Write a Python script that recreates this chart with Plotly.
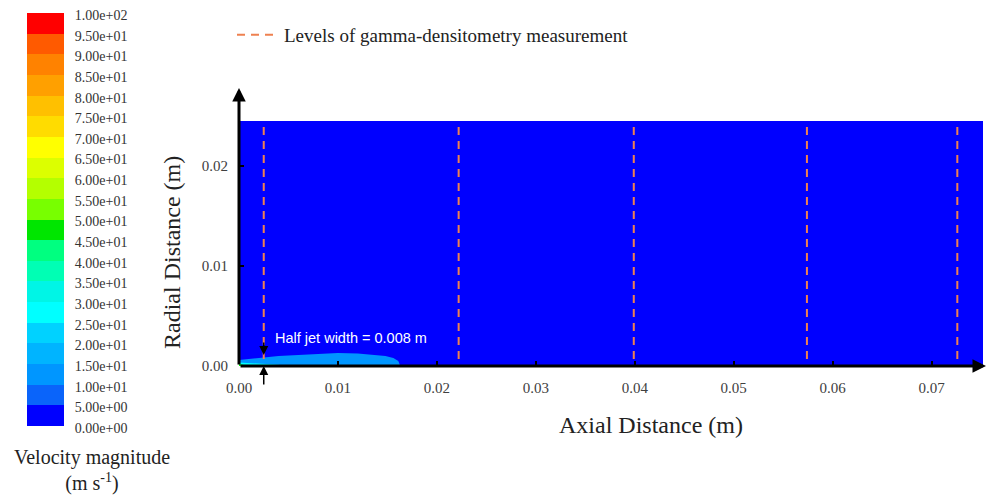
import plotly.graph_objects as go

# ---------------- data ----------------
band_edges = [0, 5, 10, 15, 20, 25, 30, 35, 40, 45, 50, 55, 60, 65, 70, 75, 80, 85, 90, 95, 100]
band_tick_text = ["0.00e+00", "5.00e+00", "1.00e+01", "1.50e+01", "2.00e+01", "2.50e+01",
                  "3.00e+01", "3.50e+01", "4.00e+01", "4.50e+01", "5.00e+01", "5.50e+01",
                  "6.00e+01", "6.50e+01", "7.00e+01", "7.50e+01", "8.00e+01", "8.50e+01",
                  "9.00e+01", "9.50e+01", "1.00e+02"]
band_colors = ["#0000FF", "#0A64FA", "#0096FF", "#00B4FF", "#00D2FF", "#00FFFF",
               "#00F5E6", "#00FFB4", "#00FF80", "#00E600", "#78FF00", "#B4FF00",
               "#DCFF00", "#FFFF00", "#FFDC00", "#FFC000", "#FFA000", "#FF8200",
               "#FF5A00", "#FF0000"]

# domain extent (m) and background velocity (m/s)
domain_length = 0.0752
domain_radius = 0.0245
background_velocity = 0.0

# jet region: outer envelope (~10-15 m/s) and thin core near nozzle
jet_x = [0.0, 0.001, 0.002, 0.004, 0.006, 0.008, 0.010, 0.012, 0.0135, 0.0148, 0.0156, 0.0161, 0.0163]
jet_top = [0.0006, 0.0007, 0.0008, 0.001, 0.0011, 0.0012, 0.0013, 0.00125, 0.00115, 0.001, 0.0008, 0.0005, 0.0]
jet_velocity = 12.0
core_x = [0.0, 0.001, 0.002, 0.003, 0.004, 0.0045]
core_top = [0.00035, 0.0003, 0.00025, 0.0002, 0.00012, 0.0]
core_velocity = 27.0
tip_x = [0.0, 0.0005, 0.001]
tip_top = [0.0002, 0.00012, 0.0]
tip_velocity = 47.0

# gamma-densitometry measurement levels (m)
measurement_levels = [0.0025, 0.0222, 0.0399, 0.0574, 0.0726]
level_top = 0.0239

x_ticks = [0.0, 0.01, 0.02, 0.03, 0.04, 0.05, 0.06, 0.07]
x_tick_text = ["0.00", "0.01", "0.02", "0.03", "0.04", "0.05", "0.06", "0.07"]
y_ticks = [0.0, 0.01, 0.02]
y_tick_text = ["0.00", "0.01", "0.02"]

x_range = [0, 0.0756]
y_range = [0, 0.0278]

half_jet_label = "Half jet width = 0.008 m"
half_jet_x = 0.0025

# ---------------- helpers ----------------
W, H = 987, 502
colorscale = []
for i, c in enumerate(band_colors):
    colorscale.append([i / len(band_colors), c])
    colorscale.append([(i + 1) / len(band_colors), c])


def color_for(v):
    idx = min(int(v // 5), len(band_colors) - 1)
    return band_colors[idx]


SERIF = "Liberation Serif"
SANS = "Liberation Sans"

fig = go.Figure()

# velocity field background
fig.add_trace(go.Heatmap(
    z=[[background_velocity]],
    x=[0, domain_length],
    y=[0, domain_radius],
    zmin=0, zmax=100,
    colorscale=colorscale, showscale=False,
    hoverinfo="skip", xaxis="x", yaxis="y",
))

# jet regions
for xs, ys, v in [(jet_x, jet_top, jet_velocity),
                  (core_x, core_top, core_velocity),
                  (tip_x, tip_top, tip_velocity)]:
    px = list(xs) + [xs[-1], 0.0]
    py = list(ys) + [0.0, 0.0]
    fig.add_trace(go.Scatter(x=px, y=py, mode="lines", fill="toself",
                             fillcolor=color_for(v), line=dict(width=0),
                             showlegend=False, hoverinfo="skip"))

# measurement levels (drawn from the top down so the dash pattern starts at the top)
for i, lv in enumerate(measurement_levels):
    fig.add_trace(go.Scatter(
        x=[lv, lv], y=[level_top, 0], mode="lines",
        line=dict(color="#EE8150", width=2, dash="8px,6px"),
        name="Levels of gamma-densitometry measurement",
        legendgroup="levels", showlegend=(i == 0), hoverinfo="skip"))

# colour scale strip (drawn on its own axes)
band_mid = [(band_edges[i] + band_edges[i + 1]) / 2 for i in range(len(band_colors))]
fig.add_trace(go.Heatmap(
    z=[[m] for m in band_mid],
    x=[0, 1], y=band_edges,
    zmin=0, zmax=100, colorscale=colorscale, showscale=False,
    hoverinfo="skip", xaxis="x2", yaxis="y2",
))

arrow_common = dict(xref="x", yref="y", showarrow=True, arrowhead=2, arrowcolor="black", text="")
annotations = [
    # axis arrows
    dict(x=x_range[1] - 0.0001, y=0, ax=0, ay=0, axref="x", ayref="y",
         arrowsize=0.9, arrowwidth=3, **arrow_common),
    dict(x=0, y=y_range[1], ax=0, ay=0, axref="x", ayref="y",
         arrowsize=0.9, arrowwidth=3, **arrow_common),
    # half jet width arrows
    dict(x=half_jet_x, y=0.0011, ax=half_jet_x, ay=0.0025, axref="x", ayref="y",
         arrowsize=1.2, arrowwidth=1.5, **arrow_common),
    dict(x=half_jet_x, y=0, ax=0, ay=20, arrowsize=1.2, arrowwidth=1.5, **arrow_common),
    dict(x=0.00345, y=0.0028, xref="x", yref="y", text=half_jet_label, showarrow=False,
         xanchor="left", yanchor="middle", font=dict(family=SANS, size=14.5, color="white")),
    # axis titles
    dict(x=651 / W, y=1 - 425 / H, xref="paper", yref="paper", text="Axial Distance (m)",
         showarrow=False, xanchor="center", yanchor="middle",
         font=dict(family=SERIF, size=24, color="#222222")),
    dict(x=172 / W, y=1 - 253 / H, xref="paper", yref="paper", text="Radial Distance (m)",
         textangle=-90, showarrow=False, xanchor="center", yanchor="middle",
         font=dict(family=SERIF, size=24, color="#222222")),
    # colour bar title
    dict(x=92 / W, y=1 - 470 / H, xref="paper", yref="paper",
         text="Velocity magnitude<br>(m s<sup>-1</sup>)", showarrow=False,
         xanchor="center", yanchor="middle",
         font=dict(family=SERIF, size=20, color="#222222")),
]

fig.update_layout(
    width=W, height=H,
    margin=dict(l=0, r=0, t=0, b=0, pad=0, autoexpand=False),
    paper_bgcolor="white", plot_bgcolor="white",
    showlegend=True,
    legend=dict(x=232 / W, xanchor="left",
                y=1 - 35 / H, yanchor="middle", itemwidth=42,
                bgcolor="rgba(0,0,0,0)", borderwidth=0,
                font=dict(family=SERIF, size=19, color="#222222")),
    xaxis=dict(domain=[239 / W, 1.0], range=x_range, showgrid=False, zeroline=False, showline=False,
               tickmode="array", tickvals=x_ticks, ticktext=x_tick_text,
               ticks="inside", ticklen=5, tickwidth=1.5, tickcolor="black",
               ticklabelstandoff=11, anchor="y", automargin=False,
               tickfont=dict(family=SERIF, size=15, color="#404040")),
    yaxis=dict(domain=[1 - 366 / H, 1 - 88 / H], range=y_range, showgrid=False, zeroline=False,
               showline=False, tickmode="array", tickvals=y_ticks, ticktext=y_tick_text,
               ticks="inside", ticklen=5, tickwidth=1.5, tickcolor="black",
               ticklabelstandoff=10, anchor="x", automargin=False,
               tickfont=dict(family=SERIF, size=15, color="#404040")),
    xaxis2=dict(domain=[27 / W, 64 / W], range=[0, 1], visible=False, anchor="y2",
                fixedrange=True, automargin=False),
    yaxis2=dict(domain=[1 - 426 / H, 1 - 13 / H], range=[0, 100], anchor="x2", side="right",
                showgrid=False, zeroline=False, showline=False, automargin=False,
                tickmode="array", tickvals=band_edges, ticktext=band_tick_text,
                ticks="outside", ticklen=5, tickcolor="rgba(0,0,0,0)", ticklabelstandoff=2,
                ticklabelshift=2,
                tickfont=dict(family=SERIF, size=14, color="#333333"), fixedrange=True),
    annotations=annotations,
)

fig.write_html("out.html")
